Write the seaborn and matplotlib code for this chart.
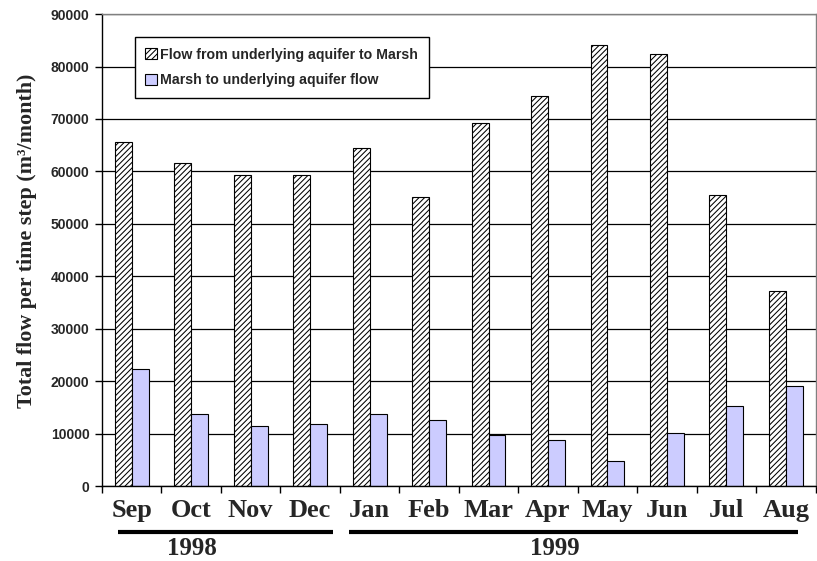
import pandas as pd
import seaborn as sns
import matplotlib.pyplot as plt

# Dados
meses = ["Sep", "Oct", "Nov", "Dec", "Jan", "Feb", "Mar", "Apr", "May", "Jun", "Jul", "Aug"]
aquifer_to_marsh = [65700, 61600, 59300, 59300, 64400, 55100, 69300, 74300, 84100, 82400, 55500, 37300]
marsh_to_aquifer = [22300, 13700, 11600, 11800, 13700, 12700, 9700, 8800, 4900, 10200, 15300, 19100]

serie1 = "Flow from underlying aquifer to Marsh"
serie2 = "Marsh to underlying aquifer flow"

df = pd.concat([
    pd.DataFrame({"Mes": meses, "Fluxo": aquifer_to_marsh, "Serie": serie1}),
    pd.DataFrame({"Mes": meses, "Fluxo": marsh_to_aquifer, "Serie": serie2}),
], ignore_index=True)

sns.set_theme(style="white")
plt.rcParams["font.family"] = ["Liberation Sans", "DejaVu Sans"]
plt.rcParams["hatch.linewidth"] = 0.75

fig = plt.figure(figsize=(8.17, 5.61), dpi=100)
ax = fig.add_axes([0.1248, 0.133, 0.8735, 0.842])

sns.barplot(
    data=df, x="Mes", y="Fluxo", hue="Serie",
    palette=["white", "#CCCCFF"], width=0.57, gap=0,
    edgecolor="black", linewidth=0.8, saturation=1, ax=ax,
)

for barra in ax.containers[0]:
    barra.set_hatch("//////")

ax.set_ylim(0, 90000)
ax.set_xlim(-0.5, len(meses) - 0.5)
ax.set_yticks(range(0, 90001, 10000))
ax.yaxis.grid(True, color="black", linewidth=0.9)
ax.set_axisbelow(True)

ax.spines["left"].set_color("black")
ax.spines["bottom"].set_color("black")
ax.spines["top"].set_color("#808080")
ax.spines["right"].set_color("#808080")
for s in ax.spines.values():
    s.set_linewidth(1.0)

ax.tick_params(axis="y", which="major", direction="out", length=5, width=1,
               color="black", left=True, labelsize=10, pad=4)
for lab in ax.get_yticklabels():
    lab.set_fontweight("bold")

# ticks do eixo x nas divisas das categorias
ax.set_xticks([i - 0.5 for i in range(len(meses) + 1)], minor=True)
ax.tick_params(axis="x", which="minor", direction="out", length=5, width=1,
               color="black", bottom=True)
ax.tick_params(axis="x", which="major", length=0, pad=9)
ax.set_xticklabels(meses, fontfamily="Liberation Serif", fontweight="bold", fontsize=19)

ax.set_xlabel("")
ax.set_ylabel("Total flow per time step (m³/month)", fontfamily="Liberation Serif",
              fontweight="bold", fontsize=15.8)
ax.yaxis.set_label_coords(-0.091, 0.52)

# legenda
handles = [ax.containers[0], ax.containers[1]]
leg = ax.legend(handles, [serie1, serie2], loc="upper left", bbox_to_anchor=(0.046, 0.951),
                borderaxespad=0, frameon=True, fancybox=False, fontsize=10.2,
                handlelength=0.8, handleheight=0.8, handletextpad=0.25,
                labelspacing=0.8, borderpad=0.75, edgecolor="black", framealpha=1)
leg.get_frame().set_linewidth(1.0)
for t in leg.get_texts():
    t.set_fontweight("bold")

# linhas dos anos
ax.plot([0.022, 0.324], [-0.097, -0.097], transform=ax.transAxes, color="black",
        linewidth=3, clip_on=False, solid_capstyle="butt")
ax.plot([0.346, 0.975], [-0.097, -0.097], transform=ax.transAxes, color="black",
        linewidth=3, clip_on=False, solid_capstyle="butt")
ax.text(0.126, -0.131, "1998", transform=ax.transAxes, ha="center", va="center",
        fontfamily="Liberation Serif", fontweight="bold", fontsize=18)
ax.text(0.634, -0.131, "1999", transform=ax.transAxes, ha="center", va="center",
        fontfamily="Liberation Serif", fontweight="bold", fontsize=18)

plt.savefig("out.png", dpi=100)
